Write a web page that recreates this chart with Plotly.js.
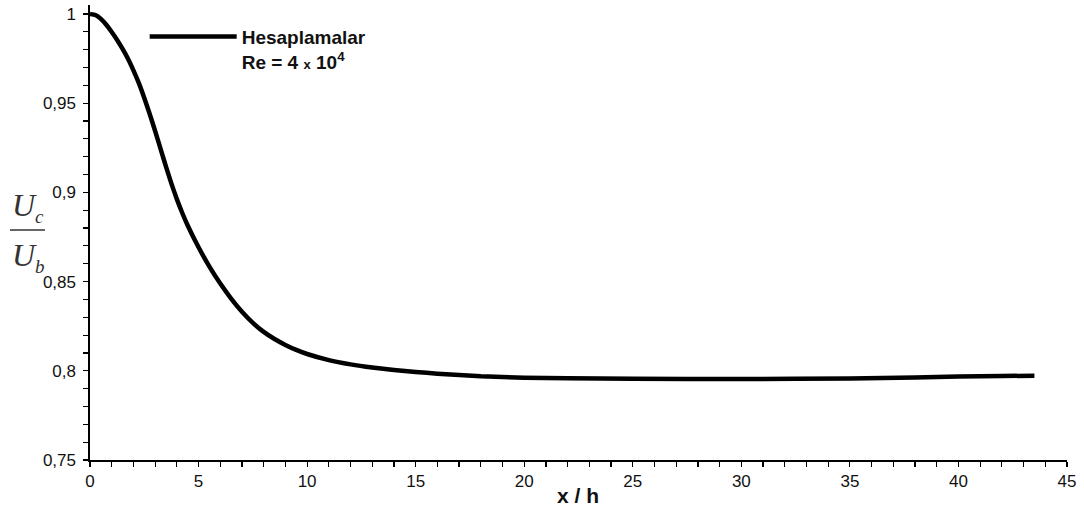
<!DOCTYPE html>
<html>
<head>
<meta charset="utf-8">
<script src="https://cdn.plot.ly/plotly-3.0.1.min.js"></script>
<style>html,body{margin:0;padding:0;background:#fff;}#chart{width:1084px;height:516px;}</style>
</head>
<body>
<div id="chart"></div>
<script>
// x / h positions
var xh = [0, 0.25, 0.5, 0.75, 1, 1.25, 1.5, 1.75, 2, 2.25, 2.5, 2.75, 3, 3.25, 3.5, 3.75, 4, 4.25, 4.5, 5, 5.5, 6, 6.5, 7, 7.5, 8, 8.5, 9, 9.5, 10, 11, 12, 13, 14, 15, 16, 18, 20, 22, 25, 30, 35, 38, 40, 42, 43.5];
// Uc / Ub values
var ucub = [1.000, 0.9994, 0.9972, 0.9939, 0.9899, 0.9854, 0.9804, 0.9749, 0.9684, 0.9612, 0.9529, 0.9439, 0.9344, 0.9244, 0.9144, 0.9049, 0.8962, 0.8884, 0.8814, 0.8692, 0.8584, 0.8489, 0.8405, 0.8331, 0.8269, 0.8218, 0.8178, 0.8145, 0.8117, 0.8094, 0.8060, 0.8036, 0.8018, 0.8004, 0.7993, 0.7984, 0.7969, 0.7961, 0.7958, 0.7955, 0.7954, 0.7957, 0.7963, 0.7968, 0.7971, 0.7972];
var seriesName = 'Hesaplamalar<br>Re = 4 <span style="font-size:13px">x</span> 10<sup>4</sup>';
var xTitle = 'x / h';
var yRange = [0.75, 1.005];

var trace = {
  x: xh, y: ucub, type: 'scatter', mode: 'lines', name: seriesName,
  line: {color: '#000', width: 4.5, shape: 'spline', smoothing: 0.4},
  showlegend: true
};
// carries the tick labels of the left axis (draws nothing)
var labelTrace = {
  x: xh, y: ucub, type: 'scatter', mode: 'none', yaxis: 'y2',
  showlegend: false, hoverinfo: 'skip'
};

var tickFont = {family: 'Liberation Sans, Arial, sans-serif', size: 17, color: '#111'};

var layout = {
  width: 1084, height: 516,
  margin: {l: 76, r: 17, t: 5, b: 56},
  paper_bgcolor: '#fff', plot_bgcolor: '#fff',
  separators: ', ',
  showlegend: true,
  xaxis: {
    domain: [0.014127, 1],
    range: [0, 45], dtick: 5, tick0: 0,
    showgrid: false, zeroline: false,
    showline: true, linecolor: '#000', linewidth: 1.5,
    ticks: 'outside', ticklen: 5, tickwidth: 1.2, tickcolor: '#000',
    minor: {dtick: 1, ticks: 'outside', ticklen: 5, tickwidth: 1.2, tickcolor: '#000', showgrid: false},
    tickfont: tickFont
  },
  yaxis: {
    range: yRange, dtick: 0.05, tick0: 0.75,
    showgrid: false, zeroline: false,
    showline: true, linecolor: '#000', linewidth: 1.5,
    ticks: 'outside', ticklen: 5, tickwidth: 1.2, tickcolor: '#000',
    minor: {dtick: 0.01, ticks: 'outside', ticklen: 5, tickwidth: 1.2, tickcolor: '#000', showgrid: false},
    showticklabels: false
  },
  yaxis2: {
    overlaying: 'y', anchor: 'free', position: 0, side: 'left',
    range: yRange, dtick: 0.05, tick0: 0.75,
    showgrid: false, zeroline: false, showline: false, ticks: '',
    showticklabels: true, tickfont: tickFont
  },
  legend: {
    x: 0.0693, y: 0.972, xanchor: 'left', yanchor: 'top',
    bgcolor: 'rgba(0,0,0,0)', borderwidth: 0,
    itemwidth: 87, valign: 'top',
    font: {family: 'Liberation Sans, Arial, sans-serif', size: 19, color: '#111', weight: 'bold'}
  },
  annotations: [
    {xref: 'paper', yref: 'paper', x: 0.5066, y: -0.078, xanchor: 'center', yanchor: 'middle', showarrow: false,
     text: xTitle, font: {family: 'Liberation Sans, Arial, sans-serif', size: 21, color: '#111', weight: 'bold'}},
    {xref: 'paper', yref: 'paper', x: -0.0666, y: 0.556, xanchor: 'left', yanchor: 'middle', showarrow: false,
     text: '<i>U<sub><span style="font-size:19px">c</span></sub></i>', font: {family: 'Liberation Serif, Times New Roman, serif', size: 32, color: '#333'}},
    {xref: 'paper', yref: 'paper', x: -0.0666, y: 0.447, xanchor: 'left', yanchor: 'middle', showarrow: false,
     text: '<i>U<sub><span style="font-size:19px">b</span></sub></i>', font: {family: 'Liberation Serif, Times New Roman, serif', size: 32, color: '#333'}}
  ],
  shapes: [
    {type: 'line', xref: 'paper', yref: 'paper', x0: -0.0666, x1: -0.0313, y0: 0.5055, y1: 0.5055,
     line: {color: '#333', width: 1.5}}
  ]
};

Plotly.newPlot('chart', [trace, labelTrace], layout, {displayModeBar: false, staticPlot: true});
</script>
</body>
</html>
